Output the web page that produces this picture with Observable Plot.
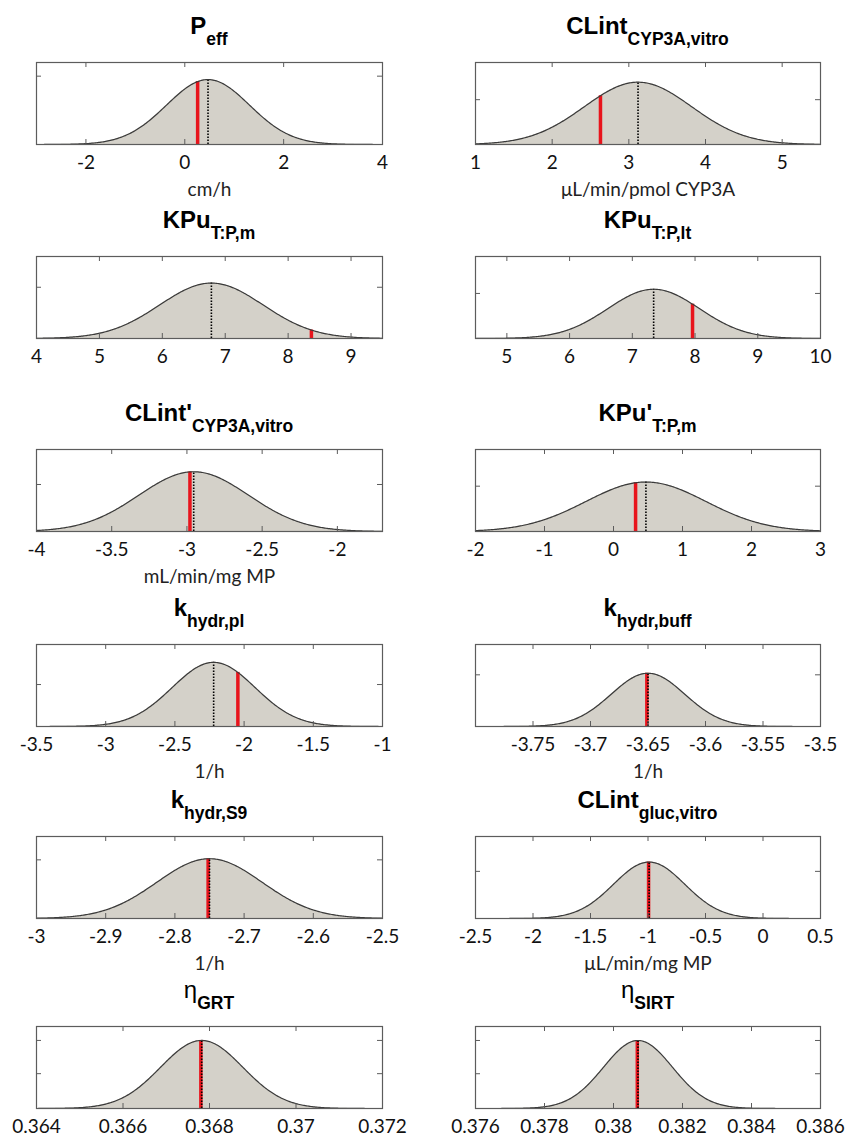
<!DOCTYPE html>
<html><head><meta charset="utf-8">
<script src="https://cdn.jsdelivr.net/npm/d3@7"></script>
<script src="https://cdn.jsdelivr.net/npm/@observablehq/plot@0.6"></script>
<style>
html,body{margin:0;padding:0;background:#fff;}
#chart{position:relative;width:847px;height:1140px;overflow:hidden;background:#fff;}
#chart svg{position:absolute;}
</style></head><body><div id="chart"></div>
<script>
// ---- data ----
const titleMain = ["P", "CLint", "KPu", "KPu", "CLint'", "KPu'", "k", "k", "k", "CLint", "η", "η"];
const titleSub = ["eff", "CYP3A,vitro", "T:P,m", "T:P,lt", "CYP3A,vitro", "T:P,m", "hydr,pl", "hydr,buff", "hydr,S9", "gluc,vitro", "GRT", "SIRT"];
const units = ["cm/h", "μL/min/pmol CYP3A", "", "", "mL/min/mg MP", "", "1/h", "1/h", "1/h", "μL/min/mg MP", "", ""];
const xDomains = [[-3, 4], [1, 5.5], [4, 9.5], [4.5, 10], [-4, -1.7], [-2, 3], [-3.5, -1], [-3.8, -3.5], [-3, -2.5], [-2.5, 0.5], [0.364, 0.372], [0.376, 0.386]];
const xTicks = [
  [-2, 0, 2, 4],
  [1, 2, 3, 4, 5],
  [4, 5, 6, 7, 8, 9],
  [5, 6, 7, 8, 9, 10],
  [-4, -3.5, -3, -2.5, -2],
  [-2, -1, 0, 1, 2, 3],
  [-3.5, -3, -2.5, -2, -1.5, -1],
  [-3.75, -3.7, -3.65, -3.6, -3.55, -3.5],
  [-3, -2.9, -2.8, -2.7, -2.6, -2.5],
  [-2.5, -2, -1.5, -1, -0.5, 0, 0.5],
  [0.364, 0.366, 0.368, 0.37, 0.372],
  [0.376, 0.378, 0.38, 0.382, 0.384, 0.386]
];
const priorMeans = [0.47, 3.12, 6.78, 7.34, -2.955, 0.47, -2.22, -3.65, -2.75, -0.99, 0.36782, 0.38071];
const priorSDs = [0.84, 0.70, 0.82, 0.73, 0.365, 0.87, 0.30, 0.032, 0.076, 0.31, 0.00095, 0.001];
const estimates = [0.26, 2.63, 8.37, 7.96, -2.98, 0.32, -2.045, -3.651, -2.752, -0.995, 0.3678, 0.38069];
const yMax = [0.6, 0.75, 0.72, 0.91, 1.5, 0.76, 1.7, 19.2, 7.2, 1.87, 506, 481];
const yTicks = [[0.5], [0.41], [0.45], [0.5], [0.86], [0.42], [0.87], [12.1], [5.15], [1.075], [215, 420], [204, 399]];

// ---- layout ----
const container = document.getElementById("chart");
const rowTops = [62, 256, 449, 644, 836, 1026];
const colLefts = [0, 423];
const colWidths = [423, 424];
const mL = [36, 52], mR = [41, 27];
const frameH = 82, mTop = 62, mBot = 50;
const fillColor = "#d4d1c9", frameColor = "#5c5c5c", red = "#e8141c";

for (let i = 0; i < 12; i++) {
  const col = i % 2, row = Math.floor(i / 2);
  const width = colWidths[col];
  const frameW = width - mL[col] - mR[col];
  const mu = priorMeans[i], sd = priorSDs[i];
  const pdf = x => Math.exp(-0.5 * ((x - mu) / sd) ** 2) / (sd * Math.sqrt(2 * Math.PI));
  const [x0, x1] = xDomains[i];
  const curve = d3.range(301).map(k => { const x = x0 + (x1 - x0) * k / 300; return {x, y: pdf(x)}; });
  const marks = [
    Plot.areaY(curve, {x: "x", y: "y", fill: fillColor}),
    Plot.ruleX([estimates[i]], {x: d => d, y1: 0, y2: d => pdf(d), stroke: red, strokeWidth: 3.5}),
    Plot.ruleX([mu], {x: d => d, y1: 0, y2: d => pdf(d), stroke: "#000", strokeWidth: 1.6, strokeDasharray: "1.5,1.5"}),
    Plot.line(curve, {x: "x", y: "y", stroke: "#3a3a3a", strokeWidth: 1.2}),
    Plot.tickX(xTicks[i], {x: d => d, insetTop: frameH - 5, stroke: frameColor}),
    Plot.tickX(xTicks[i], {x: d => d, insetBottom: frameH - 5, stroke: frameColor}),
    Plot.tickY(yTicks[i], {y: d => d, insetRight: frameW - 5, stroke: frameColor}),
    Plot.tickY(yTicks[i], {y: d => d, insetLeft: frameW - 5, stroke: frameColor}),
    Plot.frame({stroke: frameColor, strokeWidth: 1.2}),
    Plot.axisX(xTicks[i], {anchor: "bottom", tickSize: 0, tickPadding: 11, tickFormat: d => String(d), fontSize: 19, fill: "#111", label: null})
  ];
  if (units[i]) {
    marks.push(Plot.text([units[i]], {text: d => d, frameAnchor: "bottom", lineAnchor: "bottom", dy: 51, fontSize: 19, fill: "#222"}));
  }
  const svg = Plot.plot({
    width, height: mTop + frameH + mBot,
    marginLeft: mL[col], marginRight: mR[col], marginTop: mTop, marginBottom: mBot,
    x: {domain: xDomains[i]},
    y: {domain: [0, yMax[i]], axis: null},
    style: {fontFamily: "Lato, 'Open Sans', sans-serif", fontSize: "19px", background: "transparent", overflow: "visible"},
    marks
  });
  svg.style.left = colLefts[col] + "px";
  svg.style.top = (rowTops[row] - mTop) + "px";
  const t = d3.select(svg).append("text")
    .attr("x", mL[col] + frameW / 2).attr("y", mTop - 28)
    .attr("text-anchor", "middle")
    .attr("font-family", "'Liberation Sans', Arial, sans-serif")
    .attr("font-size", 24).attr("fill", "#000");
  t.append("tspan").attr("font-weight", titleMain[i] === "η" ? "normal" : "bold").text(titleMain[i]);
  t.append("tspan").attr("font-weight", "bold").attr("font-size", 17.5).attr("dy", 11).text(titleSub[i]);
  container.appendChild(svg);
}
</script></body></html>
